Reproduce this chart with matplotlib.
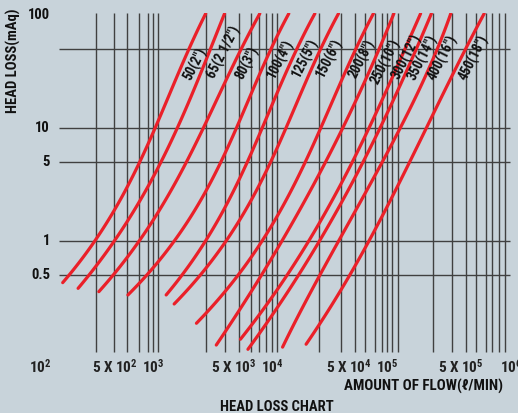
import matplotlib
matplotlib.use("Agg")
import matplotlib.pyplot as plt
from matplotlib import font_manager, transforms
import numpy as np

# flow (l/min) at which each curve reaches the given head (mAq)
pipe_labels = ['50(2")', '65(2 1/2")', '80(3")', '100(4")', '125(5")', '150(6")',
               '200(8")', '250(10")', '300(12")', '350(14")', '400(16")', '450(18")']

head_50 = [103, 50, 10, 5, 1, 0.5, 0.428]
flow_50 = [2455, 1865, 926, 694, 300, 185, 154]
head_65 = [103, 50, 10, 5, 1, 0.5, 0.381]
flow_65 = [3607, 2703, 1460, 1053, 424, 269, 212]
head_80 = [103, 50, 10, 5, 1, 0.5, 0.356]
flow_80 = [6979, 5072, 2349, 1704, 717, 408, 322]
head_100 = [103, 50, 10, 5, 1, 0.5, 0.333]
flow_100 = [12124, 9082, 4458, 3278, 1379, 825, 545]
head_125 = [103, 50, 10, 5, 1, 0.5, 0.333]
flow_125 = [19990, 14980, 7351, 5404, 2537, 1618, 1138]
head_150 = [103, 50, 10, 5, 1, 0.5, 0.277]
flow_150 = [31530, 23640, 11600, 8524, 3727, 2305, 1335]
head_200 = [103, 50, 10, 5, 1, 0.5, 0.30, 0.187]
flow_200 = [61820, 46340, 22740, 16720, 7309, 4697, 3278, 2026]
head_250 = [103, 50, 10, 5, 1, 0.5, 0.120]
flow_250 = [93670, 70200, 34450, 25320, 11075, 7115, 3075]
head_300 = [103, 50, 10, 5, 1, 0.5, 0.135]
flow_300 = [155700, 116650, 57240, 42090, 18400, 11820, 4880]
head_350 = [103, 50, 10, 5, 1, 0.5, 0.110]
flow_350 = [192400, 144100, 70720, 52000, 22740, 14610, 5648]
head_400 = [103, 50, 10, 5, 1, 0.5, 0.115]
flow_400 = [282600, 211800, 103900, 76380, 33400, 21460, 11075]
head_450 = [103, 50, 10, 5, 1, 0.5, 0.237, 0.122]
flow_450 = [526000, 377100, 174750, 126700, 55720, 40500, 27190, 16810]

heads = [head_50, head_65, head_80, head_100, head_125, head_150,
         head_200, head_250, head_300, head_350, head_400, head_450]
flows = [flow_50, flow_65, flow_80, flow_100, flow_125, flow_150,
         flow_200, flow_250, flow_300, flow_350, flow_400, flow_450]

# where the pipe size labels sit (flow, head)
label_flow = [2053, 3539, 5540, 10530, 17040, 27190, 50610, 79380, 120300, 163700, 240400, 433900]
label_head = [36.8, 46.4, 37.4, 40.6, 41.4, 41.4, 40.6, 38.6, 42.8, 41.9, 41.4, 41.4]

# grid as drawn on the chart
h_grid = [50, 10, 5, 1, 0.5]
v_grid = [300, 430, 545, 690, 815, 910, 1000,
          2500, 3600, 4750, 6000, 7000, 8000, 8900, 9860,
          22100, 34000, 44000, 53300, 64600, 74300, 81800, 90700, 101000,
          198000, 285600, 376700, 456800, 553700, 621700, 701900, 798300]

y_ticks = [100, 10, 5, 1, 0.5]
y_ticklabels = ["100", "10", "5", "1", "0.5"]
x_ticks = [1e2, 5e2, 1e3, 5e3, 1e4, 5e4, 1e5, 5e5, 1e6]
x_ticklabels = [r"$10^{2}$", r"5 X $10^{2}$", r"$10^{3}$", r"5 X $10^{3}$", r"$10^{4}$",
                r"5 X $10^{4}$", r"$10^{5}$", r"5 X $10^{5}$", r"$10^{6}$"]
x_label_shift = [2, -7, -5, -8, -6, -12, -10, -20, -6]

BG = "#c8d3da"
RED = "#ea2029"
GRID = "#404040"

names = {f.name for f in font_manager.fontManager.ttflist}
font = "DejaVu Sans"
for cand in ["Roboto Condensed", "Open Sans Condensed", "Liberation Sans Narrow",
             "Noto Sans Condensed", "Roboto"]:
    if cand in names:
        font = cand
        break
plt.rcParams["font.family"] = [font, "DejaVu Sans"]
plt.rcParams["mathtext.fontset"] = "custom"
plt.rcParams["mathtext.rm"] = font + ":bold"
plt.rcParams["mathtext.it"] = font + ":bold"
plt.rcParams["mathtext.bf"] = font + ":bold"

fig = plt.figure(figsize=(5.18, 4.13), dpi=100, facecolor=BG)
ax = fig.add_axes([0.0745, 0.1429, 0.9236, 0.8254])
ax.set_facecolor(BG)
ax.set_xscale("log")
ax.set_yscale("log")
ax.set_xlim(1e2, 1e6)
ax.set_ylim(0.1, 104)
for s in ax.spines.values():
    s.set_visible(False)
ax.set_xticks([])
ax.set_yticks([])
ax.minorticks_off()

ax.hlines(h_grid, 148, 8.7e5, color=GRID, lw=1.0, zorder=1)
ax.vlines(v_grid, 0.105, 104, color=GRID, lw=1.0, zorder=1)

# smooth each curve through its read points (cubic in log-log space)
for fl, hd in zip(flows, heads):
    lh = np.log10(hd)
    lq = np.log10(fl)
    coef = np.polyfit(lh, lq, 3)
    hh = np.linspace(lh.min(), lh.max(), 120)
    ax.plot(10 ** np.polyval(coef, hh), 10 ** hh, color=RED, lw=2.3,
            solid_capstyle="round", zorder=3)

for lab, fx, hy in zip(pipe_labels, label_flow, label_head):
    ax.text(fx, hy, lab, rotation=63, ha="center", va="center",
            fontsize=10, fontweight="bold", color="#111111", zorder=4)

# y tick labels, right aligned left of the grid
ytr = transforms.blended_transform_factory(fig.transFigure, ax.transData)
for v, lab in zip(y_ticks, y_ticklabels):
    ax.text(50 / 518, v, lab, transform=ytr, ha="right", va="center",
            fontsize=10.5, fontweight="bold", color="#111111")

# x tick labels under the chart
xtr = transforms.blended_transform_factory(ax.transData, fig.transFigure)
for v, lab, dx in zip(x_ticks, x_ticklabels, x_label_shift):
    off = transforms.ScaledTranslation(dx / 100, 0, fig.dpi_scale_trans)
    ax.text(v, (413 - 373) / 413, lab, transform=xtr + off, ha="center",
            va="baseline", fontsize=11, fontweight="bold", color="#222222",
            clip_on=False)

fig.text(13 / 518, 1 - 61 / 413, "HEAD LOSS(mAq)", rotation=90, ha="center",
         va="center", fontsize=10.5, fontweight="bold", color="#111111")
fig.text(503 / 518, 1 - 386.5 / 413, "AMOUNT OF FLOW(ℓ/MIN)", ha="right",
         va="center", fontsize=10.8, fontweight="bold", color="#111111")
fig.text(277 / 518, 1 - 407 / 413, "HEAD LOSS CHART", ha="center",
         va="center", fontsize=10.5, fontweight="bold", color="#111111")

fig.savefig("out.png", dpi=100, facecolor=BG)
